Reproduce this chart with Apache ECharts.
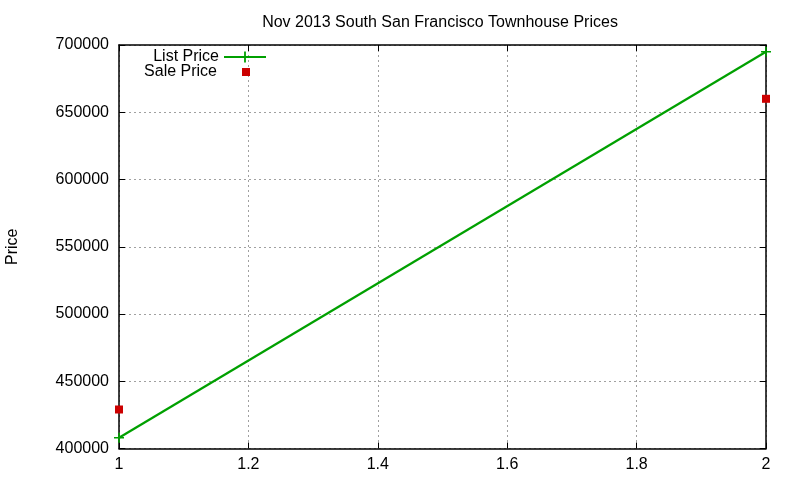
<!DOCTYPE html>
<html>
<head>
<meta charset="utf-8">
<script src="https://cdn.jsdelivr.net/npm/echarts@6/dist/echarts.min.js"></script>
<style>
  html, body { margin: 0; padding: 0; background: #fff; }
  #chart { width: 800px; height: 480px; }
</style>
</head>
<body>
<div id="chart"></div>
<script>
    'use strict';

    var titleText = 'Nov 2013 South San Francisco Townhouse Prices';
    var xPoints = [1, 2];
    var listPrice = [408000, 695000];
    var salePrice = [429000, 660000];

    var FONT = '"Liberation Sans", Arial, sans-serif';
    var plusPath = 'path://M4.2,0H5.8V4.2H10V5.8H5.8V10H4.2V5.8H0V4.2H4.2Z';

    function pairs(xs, ys) {
        return xs.map(function (x, i) { return [x, ys[i]]; });
    }

    var gridLine = { show: true, lineStyle: { color: '#a0a0a0', type: [2, 3], width: 1 } };
    var axisLine = { show: true, onZero: false, lineStyle: { color: '#000', width: 1.5 } };
    var tick = { show: true, inside: true, length: 6, lineStyle: { color: '#000', width: 1 } };

    var chart = echarts.init(document.getElementById('chart'), null, { renderer: 'canvas' });
    chart.setOption({
        backgroundColor: '#fff',
        animation: false,
        title: {
            text: titleText,
            left: 435,
            top: 10,
            textAlign: 'center',
            textStyle: { fontFamily: FONT, fontSize: 16, fontWeight: 'normal', color: '#000' }
        },
        legend: [{
            data: ['List Price'],
            right: 533,
            top: 49,
            padding: 0,
            align: 'right',
            itemWidth: 42,
            itemHeight: 14,
            textStyle: { fontFamily: FONT, fontSize: 16, color: '#000' }
        }, {
            data: [{ name: 'Sale Price', icon: 'rect' }],
            right: 550,
            top: 64,
            padding: 0,
            align: 'right',
            itemWidth: 8,
            itemHeight: 8,
            itemStyle: { opacity: 1 },
            textStyle: { fontFamily: FONT, fontSize: 16, color: '#000', padding: [0, 20, 0, 0] }
        }],
        grid: { left: 119, right: 34, top: 45, bottom: 31.5, outerBoundsMode: 'none', containLabel: false },
        xAxis: [{
            type: 'value',
            min: 1,
            max: 2,
            interval: 0.2,
            axisLine: axisLine,
            axisTick: tick,
            splitLine: gridLine,
            axisLabel: { fontFamily: FONT, fontSize: 16, color: '#000', margin: 8 }
        }, {
            type: 'value',
            position: 'top',
            min: 1,
            max: 2,
            interval: 0.2,
            axisLine: axisLine,
            axisTick: tick,
            splitLine: { show: false },
            axisLabel: { show: false }
        }],
        yAxis: [{
            type: 'value',
            min: 400000,
            max: 700000,
            interval: 50000,
            name: 'Price',
            nameLocation: 'middle',
            nameGap: 98,
            nameTextStyle: { fontFamily: FONT, fontSize: 16, color: '#000' },
            axisLine: axisLine,
            axisTick: tick,
            splitLine: gridLine,
            axisLabel: {
                fontFamily: FONT, fontSize: 16, color: '#000', margin: 10,
                formatter: function (v) { return String(v); }
            }
        }, {
            type: 'value',
            position: 'right',
            min: 400000,
            max: 700000,
            interval: 50000,
            axisLine: axisLine,
            axisTick: tick,
            splitLine: { show: false },
            axisLabel: { show: false }
        }],
        series: [{
            name: 'List Price',
            type: 'line',
            data: pairs(xPoints, listPrice),
            color: '#00a000',
            symbol: plusPath,
            symbolSize: 10,
            showAllSymbol: true,
            lineStyle: { width: 2.2, color: '#00a000' },
            itemStyle: { color: '#00a000' },
            z: 3
        }, {
            name: 'Sale Price',
            type: 'scatter',
            data: pairs(xPoints, salePrice),
            color: '#cc0000',
            symbol: 'rect',
            symbolSize: 8,
            itemStyle: { color: '#cc0000', opacity: 1 },
            z: 4
        }]
    });
</script>
</body>
</html>
